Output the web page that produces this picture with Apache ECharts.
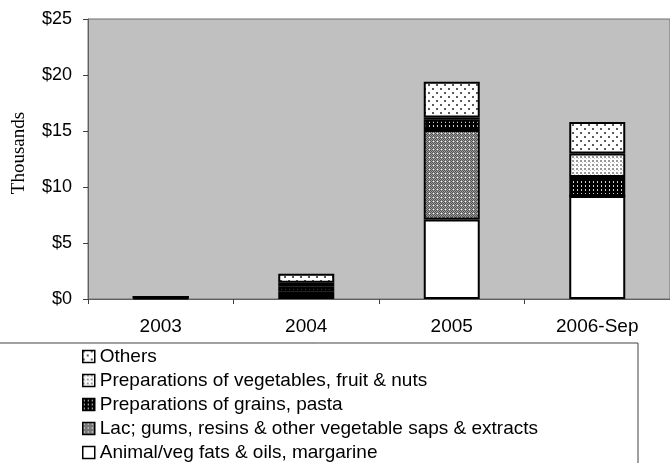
<!DOCTYPE html>
<html><head><meta charset="utf-8">
<script src="https://cdn.jsdelivr.net/npm/echarts@6/dist/echarts.min.js"></script>
<style>html,body{margin:0;padding:0;background:#fff}#c{width:670px;height:463px}</style>
</head><body><div id="c"></div>
<script>
const categories = ['2003', '2004', '2005', '2006-Sep'];
const animalFats = [0.1, 0.35, 7.1, 9.2];
const lacGums = [0.05, 0.35, 8.0, 0];
const grainsPasta = [0, 0.4, 0.9, 1.7];
const vegFruitNuts = [0, 0.35, 0.2, 2.1];
const others = [0, 0.8, 3.2, 2.8];
const yTicks = [0, 5, 10, 15, 20, 25];

const names = [
  'Animal/veg fats & oils, margarine',
  'Lac; gums, resins & other vegetable saps & extracts',
  'Preparations of grains, pasta',
  'Preparations of vegetables, fruit & nuts',
  'Others'
];

function pattern(w, h, bg, dots) {
  const c = document.createElement('canvas');
  c.width = w; c.height = h;
  const ctx = c.getContext('2d');
  ctx.fillStyle = bg; ctx.fillRect(0, 0, w, h);
  dots.forEach(d => { ctx.fillStyle = d[4]; ctx.fillRect(d[0], d[1], d[2], d[3]); });
  return { image: c, repeat: 'repeat' };
}
const fills = [
  '#ffffff',
  pattern(4, 4, '#9a9a9a', [[0,0,1,1,'#555'],[2,0,1,1,'#555'],[1,1,1,1,'#555'],[3,1,1,1,'#555'],[0,2,1,1,'#555'],[2,2,1,1,'#555'],[1,3,1,1,'#555'],[3,3,1,1,'#555'],[1,1,1,1,'#fff']]),
  pattern(4, 4, '#000000', [[1,1,1,2,'#cfcfcf']]),
  pattern(4, 4, '#ffffff', [[0,0,2,2,'#9a9a9a'],[2,2,1,1,'#c8c8c8']]),
  pattern(8, 8, '#ffffff', [[0,0,2,2,'#5a5a5a'],[4,4,2,2,'#5a5a5a']])
];
const dataSets = [animalFats, lacGums, grainsPasta, vegFruitNuts, others];

const font = "'Liberation Sans', Arial, sans-serif";
const chart = echarts.init(document.getElementById('c'), null, { renderer: 'canvas' });
chart.setOption({
  animation: false,
  backgroundColor: '#ffffff',
  grid: { left: 88, top: 19, width: 584, height: 280, show: true, backgroundColor: '#c0c0c0', borderColor: '#707070', borderWidth: 1 },
  xAxis: {
    type: 'category', data: categories,
    axisLine: { lineStyle: { color: '#606060', width: 1 } },
    axisTick: { show: true, length: 5, lineStyle: { color: '#404040' } },
    axisLabel: { color: '#000', fontFamily: font, fontSize: 19, margin: 18 }
  },
  yAxis: {
    type: 'value', min: yTicks[0], max: yTicks[yTicks.length - 1], interval: 5,
    axisLine: { show: true, lineStyle: { color: '#606060', width: 1 } },
    axisTick: { show: true, length: 5, lineStyle: { color: '#404040' } },
    splitLine: { show: false },
    axisLabel: { color: '#000', fontFamily: font, fontSize: 18, margin: 16, formatter: v => '$' + v }
  },
  legend: {
    orient: 'vertical', left: 82, top: 347, padding: 0,
    itemWidth: 12, itemHeight: 12, itemGap: 5,
    icon: 'rect',
    itemStyle: { borderColor: '#000', borderWidth: 1.5 },
    textStyle: { color: '#000', fontFamily: font, fontSize: 19, lineHeight: 19 },
    data: names.slice().reverse()
  },
  graphic: [
    { type: 'rect', shape: { x: -1, y: 343, width: 639, height: 130 }, style: { fill: 'none', stroke: '#404040', lineWidth: 1 }, silent: true, z: -1 },
    { type: 'text', x: 19, y: 153, rotation: Math.PI / 2, style: { text: 'Thousands', font: "19px 'Liberation Serif', 'Times New Roman', serif", fill: '#000', textAlign: 'center', textVerticalAlign: 'middle' } }
  ],
  series: names.map((n, i) => ({
    name: n, type: 'bar', stack: 'total', barWidth: 56,
    data: dataSets[i],
    itemStyle: { color: fills[i], borderColor: '#000', borderWidth: 2 },
    emphasis: { disabled: true }
  }))
});
</script></body></html>
